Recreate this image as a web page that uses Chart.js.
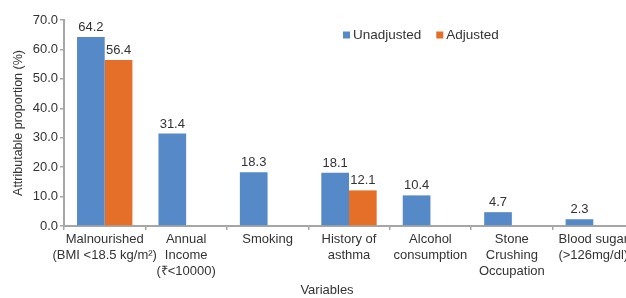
<!DOCTYPE html>
<html>
<head>
<meta charset="utf-8">
<script src="https://cdn.jsdelivr.net/npm/chart.js@4.4.1/dist/chart.umd.min.js"></script>
<style>
html,body{margin:0;padding:0;background:#fff;overflow:hidden;width:626px;height:298px;}
#wrap{position:relative;width:640px;height:298px;}
</style>
</head>
<body>
<div id="wrap"><canvas id="c" width="640" height="298"></canvas></div>
<script>
const categories = [
  ["Malnourished", "(BMI <18.5 kg/m\u00B2)"],
  ["Annual", "Income", "(\u20B9<10000)"],
  ["Smoking"],
  ["History of", "asthma"],
  ["Alcohol", "consumption"],
  ["Stone", "Crushing", "Occupation"],
  ["Blood sugar", "(>126mg/dl)"]
];
const unadjusted = [64.2, 31.4, 18.3, 18.1, 10.4, 4.7, 2.3];
const adjusted = [56.4, null, null, 12.1, null, null, null];
const seriesNames = ["Unadjusted", "Adjusted"];
const yTitle = "Attributable proportion (%)";
const xTitle = "Variables";

const FONT = "'Liberation Sans', Arial, sans-serif";
const BLUE = "#5689C8";
const ORANGE = "#E56E29";

const valueLabels = {
  id: "valueLabels",
  afterDatasetsDraw(chart) {
    const ctx = chart.ctx;
    ctx.save();
    ctx.font = "13px " + FONT;
    ctx.fillStyle = "#333";
    ctx.textAlign = "center";
    ctx.textBaseline = "bottom";
    chart.data.datasets.forEach((ds, i) => {
      const meta = chart.getDatasetMeta(i);
      meta.data.forEach((bar, j) => {
        const v = ds.data[j];
        if (v === null || v === undefined) return;
        ctx.fillText(v.toFixed(1), bar.x, bar.y - 3);
      });
    });
    ctx.restore();
  }
};

const customLegend = {
  id: "customLegend",
  afterDraw(chart) {
    const ctx = chart.ctx;
    ctx.save();
    ctx.font = "13.5px " + FONT;
    ctx.textBaseline = "middle";
    ctx.textAlign = "left";
    const y = 35;
    let x = 343;
    chart.data.datasets.forEach((ds, i) => {
      ctx.fillStyle = ds.backgroundColor;
      ctx.fillRect(x, y - 3.5, 7, 7);
      ctx.fillStyle = "#333";
      ctx.fillText(ds.label, x + 10, y);
      x += 10 + ctx.measureText(ds.label).width + 15;
    });
    // x axis title
    ctx.font = "13px " + FONT;
    ctx.textAlign = "center";
    ctx.textBaseline = "middle";
    ctx.fillStyle = "#333";
    ctx.fillText(xTitle, 327, 290);
    ctx.restore();
  }
};

new Chart(document.getElementById("c"), {
  type: "bar",
  data: {
    labels: categories,
    datasets: [
      { label: seriesNames[0], data: unadjusted, backgroundColor: BLUE, categoryPercentage: 0.68, barPercentage: 1.0 },
      { label: seriesNames[1], data: adjusted, backgroundColor: ORANGE, categoryPercentage: 0.68, barPercentage: 1.0 }
    ]
  },
  options: {
    responsive: false,
    animation: false,
    devicePixelRatio: 1,
    layout: { padding: { left: 0, right: 6, top: 20, bottom: 0 } },
    plugins: {
      legend: { display: false },
      tooltip: { enabled: false }
    },
    scales: {
      x: {
        offset: true,
        grid: { display: true, offset: true, drawOnChartArea: false, drawTicks: true, tickLength: 4, color: "#a6a6a6", lineWidth: 1.5 },
        border: { display: true, color: "#a6a6a6", width: 2 },
        ticks: { font: { family: FONT, size: 13 }, color: "#333", padding: 2, maxRotation: 0, autoSkip: false },
        afterFit(s) { s.height = 72; }
      },
      y: {
        min: 0, max: 70,
        grid: { display: true, drawOnChartArea: false, drawTicks: true, tickLength: 4, color: "#a6a6a6", lineWidth: 1.5 },
        border: { display: true, color: "#a6a6a6", width: 2 },
        ticks: { stepSize: 10, font: { family: FONT, size: 13 }, color: "#333", padding: 2, callback: v => Number(v).toFixed(1) },
        title: { display: true, text: yTitle, font: { family: FONT, size: 12.5 }, color: "#333", padding: { top: 11, bottom: 0 } },
        afterFit(s) { s.width = 64; }
      }
    }
  },
  plugins: [valueLabels, customLegend]
});
</script>
</body>
</html>
